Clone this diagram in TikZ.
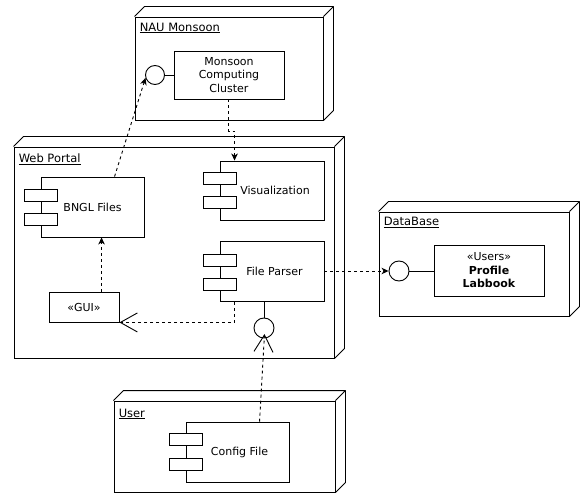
\documentclass[tikz,border=0pt]{standalone}
\usepackage{fontspec}
\setmainfont{DejaVu Sans}
\usetikzlibrary{arrows.meta,calc}
\begin{document}
\begin{tikzpicture}[x=1pt,y=-1pt,
  every node/.style={font=\fontsize{11}{13.5}\selectfont},
  ln/.style={line width=0.9pt},
  frontbox/.style={draw, ln, rectangle, inner sep=0pt, minimum width=#1},
  comp/.style={draw, ln, rectangle, inner sep=0pt, align=center, fill=white},
  port/.style={draw, ln, circle, inner sep=0pt, minimum size=19pt, fill=white},
  tab/.style={draw, ln, rectangle, inner sep=0pt, minimum width=33pt, minimum height=12pt, fill=white},
  nlabel/.style={anchor=north west, inner sep=0pt, font=\fontsize{11.5}{13.5}\selectfont},
  dep/.style={ln, dash pattern=on 3pt off 3pt},
  tipfill/.style={-{Stealth[length=7pt,width=6.5pt,inset=2pt]}},
  tipopen/.style={-{Straight Barb[length=17pt,width=19pt,line width=0.9pt]}}
]
\useasboundingbox (0,0) rectangle (586,497);

% ---- 3D nodes (front faces)
\node[frontbox=188pt, minimum height=103pt] (nau) at (229,68.5) {};
\node[frontbox=320pt, minimum height=211pt] (web) at (174,252.5) {};
\node[frontbox=190pt, minimum height=104pt] (db) at (474,264) {};
\node[frontbox=221pt, minimum height=91pt] (user) at (224.5,446.5) {};
\foreach \n in {nau,web,db,user}
  \draw[ln, line join=round] (\n.north west) -- ++(10,-10) -| ($(\n.south east)+(10,-10)$) -- (\n.south east)
        (\n.north east) -- ++(10,-10);

\node[nlabel] (naulbl) at ($(nau.north west)+(5,6)$) {\underline{NAU Monsoon}};
\node[nlabel] (weblbl) at ($(web.north west)+(5,7)$) {\underline{Web Portal}};
\node[nlabel] (dblbl) at ($(db.north west)+(5,5.5)$) {\underline{DataBase}};
\node[nlabel] (userlbl) at ($(user.north west)+(5,8)$) {\underline{User}};

% ---- NAU Monsoon contents
\node[comp, minimum width=110pt, minimum height=48pt] (cluster) at (229,75) {Monsoon\\Computing\\Cluster};
\node[port] (c1) at (155,75) {};
\draw[ln] (c1.east) -- (cluster.west);

% ---- Web Portal contents
\node[comp, minimum width=103pt, minimum height=60pt] (bngl) at (92.5,207) {BNGL Files};
\node[tab] (bnglt1) at ($(bngl.west)+(0,-12)$) {};
\node[tab] (bnglt2) at ($(bngl.west)+(0,12)$) {};

\node[comp, minimum width=104pt, minimum height=59pt] (vis) at (272,190.5) {\hspace*{6pt}Visualization};
\node[tab] (vist1) at ($(vis.west)+(0,-12)$) {};
\node[tab] (vist2) at ($(vis.west)+(0,12)$) {};

\node[comp, minimum width=104pt, minimum height=60pt] (parser) at (272,271.5) {\hspace*{5pt}File Parser};
\node[tab] (parsert1) at ($(parser.west)+(0,-11.5)$) {};
\node[tab] (parsert2) at ($(parser.west)+(0,12.5)$) {};

\node[comp, minimum width=70pt, minimum height=30pt] (gui) at (84,307) {«GUI»};

\node[port, minimum size=20pt] (c2) at (264,328) {};
\draw[ln] (c2.north) -- (c2.north |- parser.south);

% ---- DataBase contents
\node[comp, minimum width=110pt, minimum height=51pt] (profile) at (489,270.5) {«Users»\\\textbf{Profile}\\\textbf{Labbook}};
\node[port, minimum size=20pt] (c3) at (399,271) {};
\draw[ln] (c3.east) -- (profile.west |- c3.east);

% ---- User contents
\node[comp, minimum width=103pt, minimum height=60pt] (config) at (237.5,452) {\hspace*{4pt}Config File};
\node[tab] (configt1) at ($(config.west)+(0,-12.5)$) {};
\node[tab] (configt2) at ($(config.west)+(0,12.5)$) {};

% ---- connectors
\coordinate (bnglout) at ($(bngl.north west)+(74,0)$);
\draw[dep, tipfill] (bnglout) -- (c1.197);

\coordinate (clout) at ($(cluster.south west)+(55,0)$);
\coordinate (visin) at ($(vis.north west)+(15,0)$);
\draw[dep, tipfill] (clout) -- ++(0,32) -| (visin);

\coordinate (guiout) at ($(gui.north west)+(53,0)$);
\draw[dep, tipfill] (guiout) -- (guiout |- bngl.south);

\coordinate (parserout) at ($(parser.south west)+(15,0)$);
\draw[dep, tipopen] (parserout) |- (gui.south east);

\draw[dep, tipfill] (parser.east |- c3.west) -- (c3.west);

\coordinate (configout) at ($(config.north west)+(74,0)$);
\coordinate (socket) at (264.5,334);
\draw[dep, tipopen] (configout) -- (socket);
\end{tikzpicture}
\end{document}
